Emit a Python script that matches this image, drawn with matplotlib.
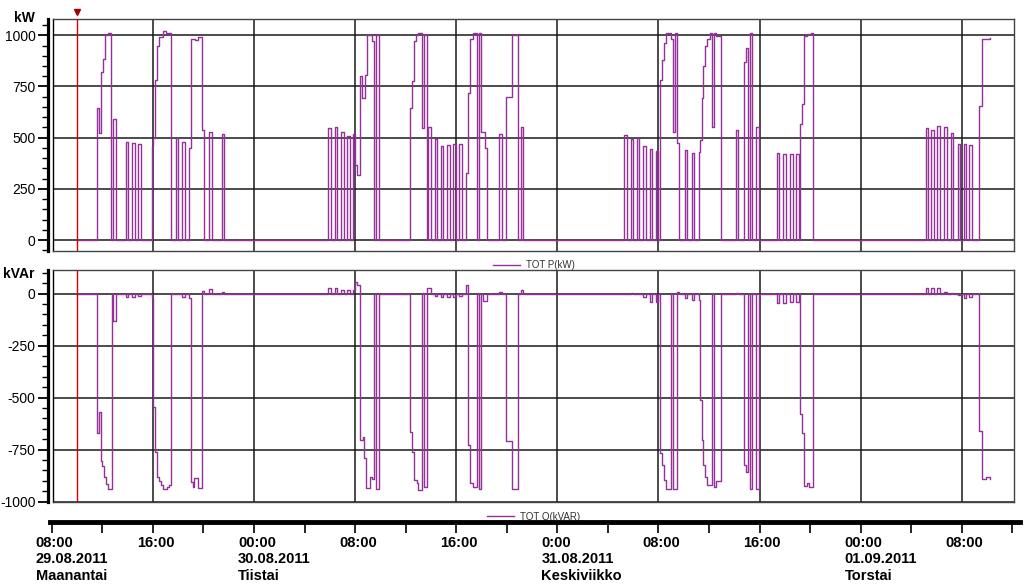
import numpy as np
import matplotlib
matplotlib.use('Agg')
import matplotlib.pyplot as plt
import matplotlib.transforms as mtransforms
from matplotlib.ticker import MultipleLocator

plt.rcParams['font.family'] = ['Liberation Sans', 'DejaVu Sans']
plt.rcParams['axes.unicode_minus'] = False

# time in hours since 29.08.2011 08:00, values are step levels (held until next point)
p_hours = [
    2.00, 3.56, 3.74, 3.90, 4.03, 4.24, 4.45, 4.69, 4.87, 5.09,
    5.85, 6.06, 6.35, 6.57, 6.85, 7.06,
    7.91, 8.04, 8.17, 8.31, 8.51, 8.83, 9.04, 9.46,
    9.83, 10.02, 10.33, 10.57, 10.84, 11.02, 11.34, 11.57, 11.87, 12.05,
    12.47, 12.66, 13.45, 13.63,
    21.88, 22.10, 22.41, 22.59, 22.91, 23.10, 23.36, 23.58,
    23.86, 24.03, 24.18, 24.39, 24.55, 24.79, 24.92, 25.32, 25.50, 25.66, 25.87,
    28.35, 28.53, 28.64, 28.80, 29.00, 29.32, 29.48, 29.67, 29.75, 30.01,
    30.32, 30.51, 30.80, 30.98, 31.30, 31.51, 31.77, 31.99, 32.25, 32.46,
    32.78, 32.96, 33.09, 33.31, 33.62, 33.78, 33.96, 34.28, 34.46,
    35.41, 35.60, 35.92, 36.39, 36.91, 37.10, 37.26,
    45.30, 45.51, 45.83, 46.01, 46.33, 46.49, 46.80, 46.99, 47.33, 47.52, 47.78, 47.94,
    48.12, 48.31, 48.44, 48.60, 49.00, 49.13, 49.29, 49.45, 49.65,
    50.10, 50.28, 50.66, 50.84,
    51.19, 51.31, 51.42, 51.55, 51.69, 51.87, 52.08, 52.26, 52.42, 52.58, 52.93,
    54.11, 54.27, 54.79, 54.93, 55.11, 55.25, 55.43, 55.72, 55.96,
    57.36, 57.56, 57.88, 58.09, 58.41, 58.62, 58.88, 59.10,
    59.22, 59.38, 59.54, 59.73, 60.05, 60.21,
    69.15, 69.35, 69.59, 69.80, 70.06, 70.28, 70.62, 70.81,
    71.12, 71.33, 71.68, 71.86, 72.15, 72.33, 72.59, 72.78,
    73.36, 73.58, 73.92, 74.23,
]
p_kw = [
    0, 644, 524, 819, 884, 1003, 1010, 0, 590, 0,
    480, 0, 472, 0, 468, 0,
    460, 500, 780, 950, 990, 1020, 1010, 0,
    500, 0, 480, 0, 450, 980, 975, 990, 537, 0,
    530, 0, 520, 0,
    546, 0, 550, 0, 526, 0, 510, 0,
    520, 366, 317, 799, 693, 807, 1003, 970, 0, 1000, 0,
    644, 775, 970, 1000, 1010, 546, 1000, 0, 550, 0,
    492, 0, 459, 0, 465, 0, 470, 0, 470, 0,
    328, 720, 983, 1010, 0, 1010, 526, 450, 0,
    520, 0, 700, 1000, 0, 550, 0,
    513, 0, 492, 0, 500, 0, 461, 0, 444, 0, 435, 0,
    783, 881, 960, 1010, 980, 526, 1010, 472, 0,
    440, 0, 423, 0,
    430, 489, 696, 848, 950, 980, 1010, 550, 1010, 995, 0,
    537, 0, 868, 940, 0, 1010, 0, 554, 0,
    423, 0, 420, 0, 420, 0, 420, 0,
    565, 663, 995, 1005, 1010, 0,
    546, 0, 536, 0, 555, 0, 550, 0,
    521, 0, 467, 0, 470, 0, 465, 0,
    655, 984, 980, 985,
]

q_hours = [
    2.00, 3.56, 3.74, 3.90, 4.00, 4.16, 4.30, 4.48, 4.75, 4.87, 5.09,
    5.85, 6.06, 6.35, 6.57, 6.85, 7.06,
    7.91, 8.04, 8.17, 8.31, 8.51, 8.65, 8.83, 9.10, 9.30, 9.46,
    10.33, 10.57, 10.84, 11.02, 11.16, 11.28, 11.55, 11.87, 12.05,
    12.47, 12.66, 13.45, 13.63,
    21.88, 22.10, 22.41, 22.59, 22.91, 23.10, 23.36, 23.58,
    23.86, 24.03, 24.18, 24.39, 24.60, 24.73, 24.87, 25.18, 25.36, 25.50, 25.66, 25.87,
    28.35, 28.53, 28.64, 28.88, 29.00, 29.32, 29.48, 29.67, 30.01,
    30.32, 30.51, 30.80, 30.98, 31.30, 31.51, 31.77, 31.99, 32.25, 32.46,
    32.78, 32.96, 33.09, 33.31, 33.62, 33.78, 33.96, 34.15, 34.46,
    35.41, 35.60, 35.92, 36.39, 36.91, 37.10, 37.26,
    45.83, 46.01, 46.80, 46.99, 47.33, 47.52, 47.78, 47.94,
    48.12, 48.31, 48.44, 48.60, 49.00, 49.13, 49.45, 49.65,
    50.10, 50.28, 50.66, 50.84,
    51.19, 51.31, 51.42, 51.55, 51.69, 51.87, 52.26, 52.42, 52.58, 52.93,
    54.11, 54.27, 54.79, 54.93, 55.11, 55.25, 55.43, 55.72, 55.96,
    57.36, 57.56, 57.88, 58.09, 58.41, 58.62, 58.88, 59.10,
    59.22, 59.38, 59.54, 59.73, 59.89, 60.21,
    69.15, 69.35, 69.59, 69.80, 70.06, 70.28, 70.62, 70.81,
    71.12, 71.33, 71.68, 71.86, 72.15, 72.33, 72.59, 72.78,
    73.36, 73.58, 73.92, 74.23,
]
q_kvar = [
    0, -671, -567, -804, -830, -880, -917, -939, 0, -131, 0,
    -15, 0, -15, 0, -10, 0,
    -20, -543, -760, -883, -900, -920, -940, -930, -920, 0,
    -15, 0, -20, -904, -930, -888, -936, 13, 0,
    20, 0, 10, 0,
    29, 0, 25, 0, 15, 0, 15, 0,
    15, 58, 40, -703, -690, -792, -936, -880, -890, 0, -940, 0,
    -663, -760, -896, -910, -944, 5, -930, 26, 0,
    -10, 0, -15, 0, -15, 0, -15, 0, -10, 0,
    42, -727, -912, -930, 0, -940, 0, -35, 0,
    10, 0, -710, -940, 0, 15, 0,
    5, 0, -15, 0, -38, 0, -40, 0,
    -768, -824, -896, -940, 0, -940, 10, 0,
    -20, 0, -30, 0,
    -30, -511, -703, -824, -880, -920, 0, -930, -900, 0,
    5, 0, -824, -856, 0, -940, 0, -940, 0,
    -43, 0, -45, 0, -40, 0, -40, 0,
    -580, -668, -923, -910, -930, 0,
    29, 0, 25, 0, 25, 0, 10, 0,
    5, 0, -5, 0, -20, 0, -15, 0,
    -659, -891, -880, -890,
]

cursor_hour = 2.0  # 10:00 on 29.08
tick_hours = [0, 8, 16, 24, 32, 40, 48, 56, 64, 72]
tick_labels = [
    "08:00\n29.08.2011\nMaanantai", "16:00", "00:00\n30.08.2011\nTiistai",
    "08:00", "16:00", "0:00\n31.08.2011\nKeskiviikko", "08:00", "16:00",
    "00:00\n01.09.2011\nTorstai", "08:00",
]
p_ticks = [0, 250, 500, 750, 1000]
q_ticks = [0, -250, -500, -750, -1000]

purple = '#952f9b'
W, H = 1024, 588
fig = plt.figure(figsize=(W / 100, H / 100), dpi=100)

x0_px, px_per_h = 51.7, 12.64
def h_at(px):
    return (px - x0_px) / px_per_h

left, right = 53, 1014
ax_p = fig.add_axes([left / W, 1 - 250.7 / H, (right - left) / W, (250.7 - 19.3) / H])
ax_q = fig.add_axes([left / W, 1 - 502.3 / H, (right - left) / W, (502.3 - 270.3) / H])


def style_panel(ax, hours, vals, ylim, yticks, label):
    ax.plot(hours, vals, drawstyle='steps-post', color=purple, lw=1.0, label=label, zorder=3)
    ax.set_xlim(h_at(left), h_at(right))
    ax.set_ylim(*ylim)
    ax.set_yticks(yticks)
    ax.yaxis.set_minor_locator(MultipleLocator(50))
    ax.set_xticks(np.arange(8, 76, 8))
    ax.tick_params(axis='x', length=0, labelbottom=False)
    ax.grid(True, color='#1a1a1a', lw=1.1)
    ax.set_axisbelow(True)
    ax.tick_params(axis='y', which='major', length=7, width=1.3, labelsize=10, pad=2)
    ax.tick_params(axis='y', which='minor', length=4, width=1)
    plt.setp(ax.get_yticklabels(), fontweight='bold')
    ax.spines['left'].set_position(('outward', 3.5))
    ax.spines['left'].set_linewidth(2.3)
    for s in ['top', 'right', 'bottom']:
        ax.spines[s].set_color('#444444')
        ax.spines[s].set_linewidth(1)
    ax.plot([0, 0], [0, 1], transform=ax.transAxes, color='k', lw=1, clip_on=False)
    ax.axvline(cursor_hour, color='#dd0000', lw=1, zorder=4)
    leg = ax.legend(loc='upper center', bbox_to_anchor=(0.5, -0.02), frameon=False,
                    fontsize=7, handlelength=2.8, borderpad=0, handletextpad=0.6)
    for t in leg.get_texts():
        t.set_color('#333333')


style_panel(ax_p, p_hours, p_kw, (-52, 1078), p_ticks, 'TOT P(kW)')
style_panel(ax_q, q_hours, q_kvar, (-1003, 112), q_ticks, 'TOT Q(kVAR)')

fig.text(35 / W, 1 - 18 / H, 'kW', ha='right', va='center', fontsize=10, fontweight='bold')
fig.text(35 / W, 1 - 274 / H, 'kVAr', ha='right', va='center', fontsize=10, fontweight='bold')

# cursor marker above the top panel
trans = mtransforms.blended_transform_factory(ax_p.transData, ax_p.transAxes)
ax_p.plot([cursor_hour], [1.03], transform=trans, marker='v', ms=5,
          color='#a00000', clip_on=False)

# time axis
ax_t = fig.add_axes([50 / W, 1 - 521.7 / H, (1020 - 50) / W, 0.0001])
ax_t.set_xlim(h_at(50), h_at(1020))
ax_t.set_ylim(0, 1)
for s in ['top', 'left', 'right']:
    ax_t.spines[s].set_visible(False)
ax_t.spines['bottom'].set_linewidth(3.5)
ax_t.set_yticks([])
ax_t.set_xticks(np.arange(0, 77, 4))
ax_t.tick_params(axis='x', length=8, width=1.2, labelbottom=False)
for h, lab in zip(tick_hours, tick_labels):
    ax_t.annotate(lab, xy=(h, 0), xycoords=('data', 'axes fraction'),
                  xytext=(-11.5, -10), textcoords='offset points',
                  ha='left', va='top', fontsize=10.5, fontweight='bold', linespacing=1.25)

fig.savefig('out.png', dpi=100)
